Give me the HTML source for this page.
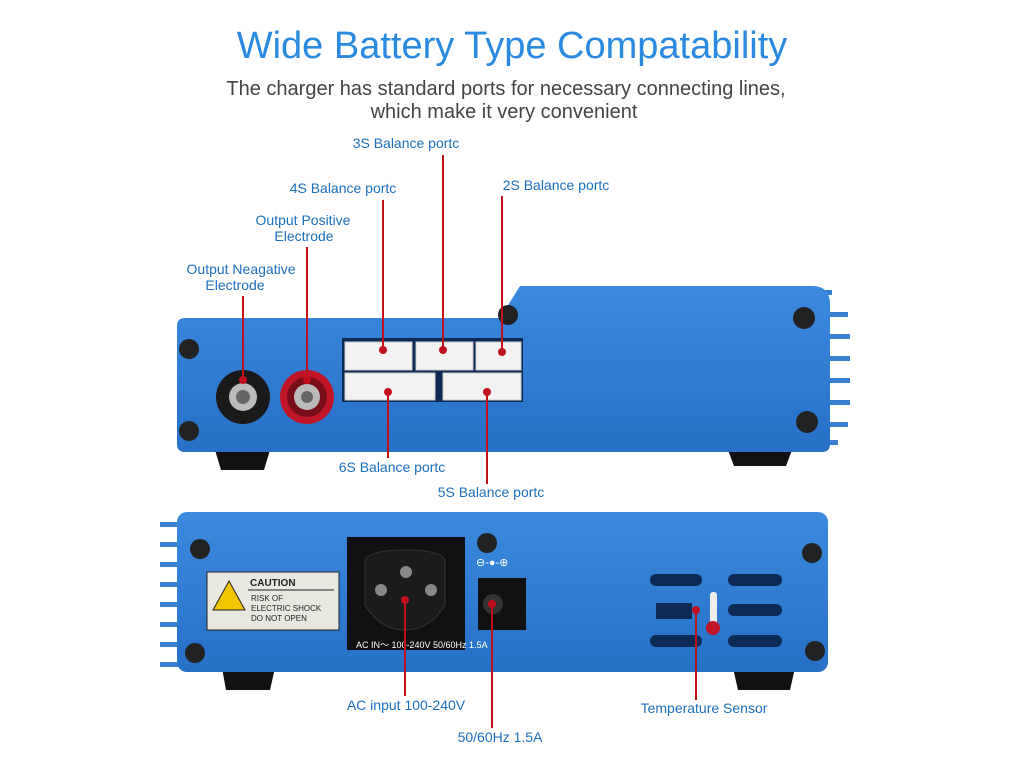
<!DOCTYPE html>
<html><head><meta charset="utf-8"><style>
body{margin:0;background:#fff;width:1024px;height:768px;overflow:hidden;font-family:"Liberation Sans",sans-serif}
svg{position:absolute;left:0;top:0}
</style></head><body>
<svg width="1024" height="768" viewBox="0 0 1024 768" font-family="Liberation Sans, sans-serif">
<defs>
<linearGradient id="b" x1="0" y1="0" x2="0" y2="1"><stop offset="0" stop-color="#3b8ae0"/><stop offset="1" stop-color="#2670c6"/></linearGradient>
</defs>
<text x="512" y="58" text-anchor="middle" font-size="38" fill="#2a8ae0">Wide Battery Type Compatability</text>
<text x="506" y="95" text-anchor="middle" font-size="20" fill="#444">The charger has standard ports for necessary connecting lines,</text>
<text x="504" y="118" text-anchor="middle" font-size="20" fill="#444">which make it very convenient</text>
<g font-size="14" fill="#1d6fbd" text-anchor="middle">
<text x="406" y="148">3S Balance portc</text>
<text x="343" y="193">4S Balance portc</text>
<text x="556" y="190">2S Balance portc</text>
<text x="303" y="225">Output Positive</text><text x="304" y="241">Electrode</text>
<text x="241" y="274">Output Neagative</text><text x="235" y="290">Electrode</text>
<text x="392" y="472">6S Balance portc</text>
<text x="491" y="497">5S Balance portc</text>
<text x="406" y="710">AC input 100-240V</text>
<text x="500" y="742">50/60Hz 1.5A</text>
<text x="704" y="713">Temperature Sensor</text>
</g>
<!-- top device -->
<g fill="#3a80d0"><rect x="818" y="290" width="14" height="5"/><rect x="818" y="312" width="30" height="5"/><rect x="818" y="334" width="32" height="5"/><rect x="818" y="356" width="32" height="5"/><rect x="818" y="378" width="32" height="5"/><rect x="818" y="400" width="32" height="5"/><rect x="818" y="422" width="30" height="5"/><rect x="818" y="440" width="20" height="5"/></g>
<path d="M215 450 L270 450 L264 470 L221 470 Z M728 450 L792 450 L786 466 L734 466 Z" fill="#111"/>
<path d="M185 318 L500 318 L520 286 L812 286 Q830 286 830 304 L830 444 Q830 452 822 452 L185 452 Q177 452 177 444 L177 326 Q177 318 185 318 Z" fill="url(#b)"/>
<rect x="342" y="338" width="181" height="64" fill="#0d2a55"/>
<g fill="#f2f2f2" stroke="#ccc"><rect x="345" y="342" width="67" height="28"/><rect x="416" y="342" width="57" height="28"/><rect x="476" y="342" width="45" height="28"/><rect x="345" y="373" width="90" height="27"/><rect x="443" y="373" width="78" height="27"/></g>
<circle cx="243" cy="397" r="27" fill="#1a1a1a"/><circle cx="243" cy="397" r="14" fill="#bbb"/><circle cx="243" cy="397" r="7" fill="#666"/>
<circle cx="307" cy="397" r="27" fill="#c01526"/><circle cx="307" cy="397" r="20" fill="#7a0e18"/><circle cx="307" cy="397" r="13" fill="#bbb"/><circle cx="307" cy="397" r="6" fill="#666"/>
<g fill="#222"><circle cx="189" cy="349" r="10"/><circle cx="189" cy="431" r="10"/><circle cx="508" cy="315" r="10"/><circle cx="804" cy="318" r="11"/><circle cx="807" cy="422" r="11"/></g>
<!-- bottom device -->
<g fill="#3a80d0"><rect x="160" y="522" width="22" height="5"/><rect x="160" y="542" width="22" height="5"/><rect x="160" y="562" width="22" height="5"/><rect x="160" y="582" width="22" height="5"/><rect x="160" y="602" width="22" height="5"/><rect x="160" y="622" width="22" height="5"/><rect x="160" y="642" width="22" height="5"/><rect x="160" y="662" width="22" height="5"/></g>
<path d="M222 668 L275 668 L270 690 L226 690 Z M733 668 L795 668 L790 690 L738 690 Z" fill="#111"/>
<rect x="177" y="512" width="651" height="160" rx="10" fill="url(#b)"/>
<rect x="207" y="572" width="132" height="58" fill="#e8e8e0" stroke="#222"/>
<text x="250" y="586" font-size="10" font-weight="bold" fill="#222">CAUTION</text>
<line x1="248" y1="590" x2="334" y2="590" stroke="#222"/>
<text x="251" y="601" font-size="8" fill="#222">RISK OF</text><text x="251" y="611" font-size="8" fill="#222">ELECTRIC SHOCK</text><text x="251" y="621" font-size="8" fill="#222">DO NOT OPEN</text>
<path d="M229 581 L245 610 L213 610 Z" fill="#f2c500" stroke="#222"/>
<rect x="347" y="537" width="118" height="113" fill="#111"/>
<path d="M365 560 Q370 550 405 550 Q440 550 445 560 L445 605 Q430 630 405 630 Q380 630 365 605 Z" fill="#1c1c1c" stroke="#333"/>
<g fill="#888"><circle cx="406" cy="572" r="6"/><circle cx="381" cy="590" r="6"/><circle cx="431" cy="590" r="6"/></g>
<rect x="478" y="578" width="48" height="52" fill="#111"/><circle cx="493" cy="604" r="10" fill="#333"/><circle cx="493" cy="604" r="3" fill="#999"/>
<text x="476" y="566" font-size="11" fill="#fff">⊖-●-⊕</text>
<text x="356" y="648" font-size="9" fill="#fff">AC IN～ 100-240V  50/60Hz  1.5A</text>
<g fill="#0d2a55"><rect x="650" y="574" width="52" height="12" rx="6"/><rect x="728" y="574" width="54" height="12" rx="6"/><rect x="650" y="635" width="52" height="12" rx="6"/><rect x="728" y="635" width="54" height="12" rx="6"/><rect x="728" y="604" width="54" height="12" rx="6"/><rect x="656" y="603" width="36" height="16"/></g>
<rect x="710" y="592" width="7" height="38" rx="3" fill="#eee"/><circle cx="713" cy="628" r="7" fill="#c01526"/>
<g fill="#222"><circle cx="200" cy="549" r="10"/><circle cx="195" cy="653" r="10"/><circle cx="487" cy="543" r="10"/><circle cx="812" cy="553" r="10"/><circle cx="815" cy="651" r="10"/></g>
<!-- leader lines -->
<g stroke="#c0101c" stroke-width="2">
<line x1="243" y1="296" x2="243" y2="380"/><line x1="307" y1="247" x2="307" y2="380"/>
<line x1="383" y1="200" x2="383" y2="350"/><line x1="443" y1="155" x2="443" y2="350"/><line x1="502" y1="196" x2="502" y2="352"/>
<line x1="388" y1="392" x2="388" y2="458"/><line x1="487" y1="392" x2="487" y2="484"/>
<line x1="405" y1="600" x2="405" y2="696"/><line x1="492" y1="604" x2="492" y2="728"/><line x1="696" y1="610" x2="696" y2="700"/>
</g>
<g fill="#c0101c"><circle cx="243" cy="380" r="4"/><circle cx="307" cy="380" r="4"/><circle cx="383" cy="350" r="4"/><circle cx="443" cy="350" r="4"/><circle cx="502" cy="352" r="4"/><circle cx="388" cy="392" r="4"/><circle cx="487" cy="392" r="4"/><circle cx="405" cy="600" r="4"/><circle cx="492" cy="604" r="4"/><circle cx="696" cy="610" r="4"/></g>
</svg>
</body></html>
